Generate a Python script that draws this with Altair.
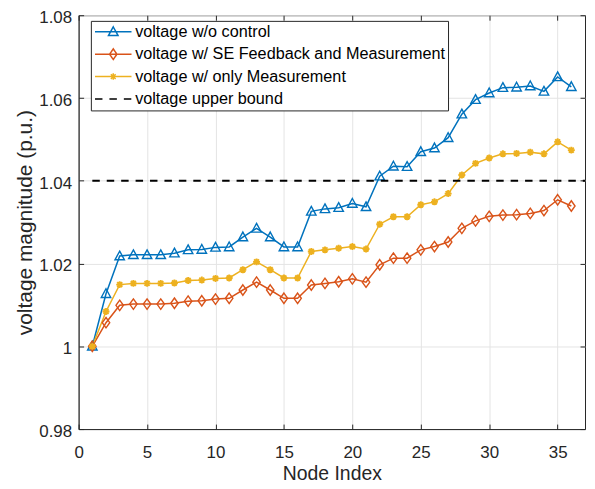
import altair as alt
import pandas as pd

# ---------------- data ----------------
nodes = list(range(1, 37))

v_no_control = [1.0000, 1.0127, 1.0218, 1.0221, 1.0221, 1.0221, 1.0225, 1.0233, 1.0234, 1.0239,
                1.0240, 1.0264, 1.0285, 1.0264, 1.0240, 1.0240, 1.0326, 1.0332, 1.0335, 1.0345,
                1.0337, 1.0411, 1.0435, 1.0434, 1.0470, 1.0479, 1.0504, 1.0561, 1.0596, 1.0612,
                1.0625, 1.0626, 1.0629, 1.0616, 1.0651, 1.0627]

v_se_feedback = [1.0000, 1.0057, 1.0099, 1.0102, 1.0102, 1.0102, 1.0104, 1.0109, 1.0110, 1.0114,
                 1.0116, 1.0136, 1.0155, 1.0136, 1.0116, 1.0116, 1.0148, 1.0152, 1.0156, 1.0163,
                 1.0155, 1.0197, 1.0213, 1.0213, 1.0233, 1.0241, 1.0252, 1.0285, 1.0303, 1.0314,
                 1.0317, 1.0318, 1.0321, 1.0328, 1.0354, 1.0339]

v_measurement = [1.0000, 1.0084, 1.0149, 1.0152, 1.0152, 1.0152, 1.0153, 1.0159, 1.0160, 1.0164,
                 1.0165, 1.0185, 1.0204, 1.0185, 1.0165, 1.0165, 1.0229, 1.0233, 1.0237, 1.0241,
                 1.0235, 1.0295, 1.0313, 1.0313, 1.0342, 1.0349, 1.0369, 1.0414, 1.0442, 1.0455,
                 1.0465, 1.0466, 1.0469, 1.0465, 1.0494, 1.0474]

bound_nodes = [1, 37]
bound_values = [1.04, 1.04]

series_names = ["voltage w/o control",
                "voltage w/ SE Feedback and Measurement",
                "voltage w/ only Measurement",
                "voltage upper bound"]
series_colors = ["#0072BD", "#D95319", "#EDB120", "#000000"]

x_tick_values = [0, 5, 10, 15, 20, 25, 30, 35]
y_tick_values = [0.98, 1.0, 1.02, 1.04, 1.06, 1.08]
x_domain = [0, 37]
y_domain = [0.98, 1.08]

# ---------------- styling ----------------
W, H = 509, 416
FONT = "Liberation Sans"
AX = "#262626"
GRID = "#e4e4e4"

# marker shapes (unit paths) for the plot and for the legend (line + marker)
plot_paths = [
    "M0,-1L0.95,0.75L-0.95,0.75Z",                      # triangle
    "M0,-1.05L0.75,0L0,1.05L-0.75,0Z",                  # diamond
    "M-0.7,0L0.7,0M0,-0.7L0,0.7M-0.5,-0.5L0.5,0.5M-0.5,0.5L0.5,-0.5",  # asterisk
]
marker_widths = [1.4, 1.4, 1.9]
legend_paths = [
    "M-1,0L1,0M0,-0.27L0.26,0.2L-0.26,0.2Z",
    "M-1,0L1,0M0,-0.29L0.2,0L0,0.29L-0.2,0Z",
    "M-1,0L1,0M-0.18,0L0.18,0M0,-0.18L0,0.18M-0.13,-0.13L0.13,0.13M-0.13,0.13L0.13,-0.13",
    "M-1,0L1,0",
]
dash_range = [[1, 0], [1, 0], [1, 0], [7.5, 7]]

series_values = [v_no_control, v_se_feedback, v_measurement]
rows = []
for name, vals in zip(series_names[:3], series_values):
    for n, v in zip(nodes, vals):
        rows.append({"node": n, "value": v, "series": name})
df = pd.DataFrame(rows)
bound_df = pd.DataFrame({"node": bound_nodes, "value": bound_values, "series": series_names[3]})

xs = alt.Scale(domain=x_domain, nice=False, zero=False)
ys = alt.Scale(domain=y_domain, nice=False, zero=False)

def tick_axis(orient, offset):
    return alt.Axis(orient=orient, offset=offset, grid=False, labels=False, domain=False,
                    ticks=True, tickSize=5, tickColor=AX, tickWidth=1, title="",
                    values=x_tick_values if orient in ("top", "bottom") else y_tick_values)

x_main = alt.Axis(orient="bottom", values=x_tick_values, grid=True, gridColor=GRID, gridWidth=1,
                  ticks=False, domain=True, domainColor=AX, domainWidth=1,
                  labelFont=FONT, labelFontSize=17, labelColor=AX, labelPadding=16, labelFlush=False,
                  title="Node Index", titleFont=FONT, titleFontSize=19.5, titleFontWeight="normal",
                  titleColor=AX, titlePadding=4)
y_main = alt.Axis(orient="left", values=y_tick_values, format="~g", grid=True, gridColor=GRID,
                  gridWidth=1, ticks=False, domain=True, domainColor=AX, domainWidth=1,
                  labelFont=FONT, labelFontSize=17, labelColor=AX, labelPadding=7, labelOffset=2.5,
                  title="voltage magnitude (p.u.)", titleFont=FONT, titleFontSize=21,
                  titleFontWeight="normal", titleColor=AX, titlePadding=3)

layers = []
# lines (one layer per series)
for i, name in enumerate(series_names[:3]):
    if i == 0:
        enc_x = alt.X("node:Q", scale=xs, axis=x_main)
        enc_y = alt.Y("value:Q", scale=ys, axis=y_main)
    else:
        enc_x = alt.X("node:Q", scale=xs, axis=None)
        enc_y = alt.Y("value:Q", scale=ys, axis=None)
    layers.append(
        alt.Chart(df).transform_filter(alt.datum.series == name)
        .mark_line(color=series_colors[i], strokeWidth=1.5)
        .encode(x=enc_x, y=enc_y)
    )

# markers (one layer per series)
for i, name in enumerate(series_names[:3]):
    if i == 0:
        enc_x = alt.X("node:Q", scale=xs, axis=tick_axis("bottom", -H))
        enc_y = alt.Y("value:Q", scale=ys, axis=tick_axis("left", -W))
    else:
        enc_x = alt.X("node:Q", scale=xs, axis=None)
        enc_y = alt.Y("value:Q", scale=ys, axis=None)
    layers.append(
        alt.Chart(df).transform_filter(alt.datum.series == name)
        .mark_point(shape=plot_paths[i], size=100, filled=False, color=series_colors[i],
                    strokeWidth=marker_widths[i], opacity=1)
        .encode(x=enc_x, y=enc_y)
    )

# upper bound (dashed)
layers.append(
    alt.Chart(bound_df).mark_line(color="#000000", strokeWidth=2, strokeDash=[7.5, 7])
    .encode(x=alt.X("node:Q", scale=xs, axis=tick_axis("top", -H)),
            y=alt.Y("value:Q", scale=ys, axis=tick_axis("right", -W)))
)

# legend-only layer (no rows drawn)
legend_layer = (
    alt.Chart(df).transform_filter("false")
    .mark_point(filled=False, opacity=1, strokeWidth=1.5)
    .encode(
        x=alt.X("node:Q", scale=xs, axis=None),
        y=alt.Y("value:Q", scale=ys, axis=None),
        color=alt.Color("series:N", scale=alt.Scale(domain=series_names, range=series_colors),
                        legend=alt.Legend(title=None)),
        shape=alt.Shape("series:N", scale=alt.Scale(domain=series_names, range=legend_paths),
                        legend=alt.Legend(title=None)),
        strokeDash=alt.StrokeDash("series:N", scale=alt.Scale(domain=series_names, range=dash_range),
                                  legend=alt.Legend(title=None)),
    )
)
layers.append(legend_layer)

chart = (
    alt.layer(*layers)
    .resolve_axis(x="independent", y="independent")
    .properties(width=W, height=H, autosize=alt.AutoSizeParams(type="none"),
                padding={"left": 71, "top": 6, "right": 2, "bottom": 58},
                background="white")
    .configure_view(stroke=AX, strokeWidth=1)
    .configure_legend(orient="none", legendX=12.3, legendY=5.7, padding=3,
                      fillColor="white", strokeColor=AX,
                      labelFont=FONT, labelFontSize=16.3, labelColor="#000000",
                      labelLimit=500, labelOffset=2.5, rowPadding=5.5, clipHeight=16,
                      symbolSize=1347, symbolStrokeWidth=1.5, symbolOffset=0)
)

chart.save("out.html", embed_options={"renderer": "svg", "actions": False})
